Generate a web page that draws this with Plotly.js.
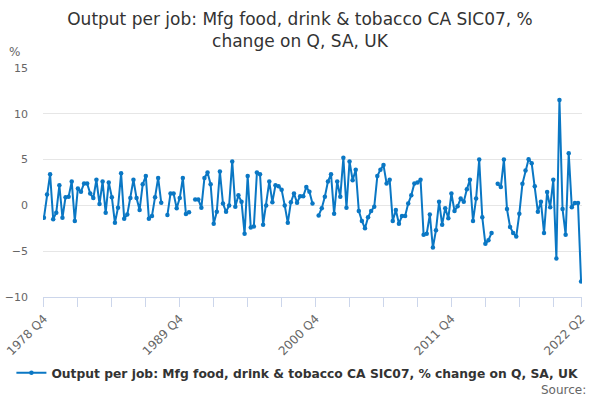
<!DOCTYPE html>
<html>
<head>
<meta charset="utf-8">
<script src="https://cdn.plot.ly/plotly-3.0.1.min.js"></script>
<style>
  html, body { margin: 0; padding: 0; background: #fff; }
  #chart { width: 600px; height: 400px; }
</style>
</head>
<body>
<div id="chart"></div>
<script>
// Output per job, food/drink/tobacco, quarterly % change (1978 Q4 - 2022 Q2)
const START_YEAR = 1978, START_Q = 4;
const N_QUARTERS = 175;

// values; null = missing quarter (gap in line)
const pctChange = [
  -1.35, 1.2, 3.4, -1.5, -0.8, 2.2, -1.35, 0.9, 0.95, 2.6,
  -1.7, 1.85, 1.5, 2.4, 2.4, 1.3, 0.8, 2.8, 0.15, 2.6,
  -0.8, 2.5, 0.9, -1.9, -0.25, 3.5, -1.45, -1.0, 0.8, 2.8,
  0.8, -0.5, 2.3, 3.2, -1.45, -1.15, 0.9, 3.0, 0.3, null,
  -1.05, 1.3, 1.3, -0.3, 0.8, 3.0, -0.95, -0.75, null, 0.65,
  0.65, -0.25, 3.0, 3.6, 2.3, -2.0, -0.7, 3.7, 0.2, -0.7,
  0.0, 4.8, -0.15, 1.1, 0.4, -3.1, 3.2, -2.4, -2.3, 3.6,
  3.4, -2.1, 0.0, 2.6, 0.35, 2.2, 2.1, 1.7, 0.0, -1.9,
  0.35, 1.3, 0.3, 1.0, 1.0, 2.0, 1.5, 0.2, null, -1.1,
  -0.3, 0.95, 2.6, 3.4, -0.9, 2.6, 0.95, 5.2, -0.25, 4.8,
  2.75, 3.9, -0.6, -1.7, -2.5, -1.3, -0.6, -0.15, 3.2, 3.9,
  4.4, 2.4, 2.8, -1.7, -0.5, -2.0, -1.15, -1.15, 0.2, 1.1,
  2.4, 2.5, 2.8, -3.2, -3.1, -1.0, -4.6, -2.7, 0.4, -2.1,
  -0.3, -1.4, 1.3, -0.6, -0.1, 0.75, 0.4, 1.75, 2.8, -1.7,
  0.75, 5.0, -1.3, -4.2, -3.8, -3.0, null, 2.35, 2.0, 5.0,
  -0.4, -2.35, -3.0, -3.4, -0.9, 2.35, 3.8, 5.05, 4.6, 2.1,
  -0.7, 0.4, -3.0, 1.45, -0.2, 2.8, -5.8, 11.5, -0.4, -3.2,
  5.7, -0.2, 0.25, 0.25, -8.3
];

// tick marks every 11 quarters, labels only on some of them
const tickQuarters = ['1978 Q4', '1981 Q3', '1984 Q2', '1987 Q1', '1989 Q4', '1992 Q3',
  '1995 Q2', '1998 Q1', '2000 Q4', '2003 Q3', '2006 Q2', '2009 Q1', '2011 Q4',
  '2014 Q3', '2017 Q2', '2020 Q1', '2022 Q2'];
const tickLabels = ['1978 Q4', '', '', '', '1989 Q4', '', '', '', '2000 Q4', '', '', '',
  '2011 Q4', '', '', '', '2022 Q2'];
const yTicks = [-10, -5, 0, 5, 10, 15];

const SERIES_NAME = 'Output per job: Mfg food, drink & tobacco CA SIC07, % change on Q, SA, UK';

const quarters = [];
for (let i = 0, y = START_YEAR, q = START_Q; i < N_QUARTERS; i++) {
  quarters.push(y + ' Q' + q);
  q++; if (q > 4) { q = 1; y++; }
}

const FONT = 'DejaVu Sans, Verdana, sans-serif';
const BLUE = '#0a77c4';

const trace = {
  type: 'scatter', mode: 'lines+markers',
  x: quarters, y: pctChange,
  name: '<b>' + SERIES_NAME + '</b>',
  line: { color: BLUE, width: 2 },
  marker: { color: BLUE, size: 4.5 },
  connectgaps: false,
  hoverinfo: 'x+y'
};

const layout = {
  width: 600, height: 400,
  margin: { l: 43, r: 18, t: 68, b: 103 },
  paper_bgcolor: '#fff', plot_bgcolor: '#fff',
  font: { family: FONT, color: '#333' },
  title: {
    text: 'Output per job: Mfg food, drink & tobacco CA SIC07, %<br>change on Q, SA, UK',
    font: { family: FONT, size: 17, color: '#333' },
    x: 0.5, xanchor: 'center', y: 0.938, yanchor: 'top', yref: 'container'
  },
  xaxis: {
    type: 'category',
    range: [-0.3, N_QUARTERS - 0.7],
    tickmode: 'array', tickvals: tickQuarters, ticktext: tickLabels,
    tickangle: -45,
    ticks: 'outside', ticklen: 9, tickcolor: '#ccd6eb', tickwidth: 1,
    showline: true, linecolor: '#ccd6eb', linewidth: 1,
    showgrid: false, zeroline: false,
    tickfont: { family: FONT, size: 12, color: '#666' }
  },
  yaxis: {
    range: [-10, 15], tickmode: 'array', tickvals: yTicks,
    showgrid: true, gridcolor: '#e6e6e6', gridwidth: 1,
    zeroline: false, showline: false, ticks: '',
    ticklabelstandoff: 14,
    tickfont: { family: FONT, size: 11, color: '#666' }
  },
  showlegend: true,
  legend: {
    orientation: 'h', x: 0.472, xanchor: 'center',
    yref: 'container', y: 0.068, yanchor: 'middle',
    font: { family: FONT, size: 12.3, color: '#333' }
  },
  annotations: [
    { text: '%', xref: 'paper', yref: 'paper', x: -0.052, y: (297 - 52) / 229,
      xanchor: 'center', yanchor: 'middle', showarrow: false,
      font: { family: FONT, size: 12, color: '#666' } },
    { text: 'Source:', xref: 'paper', yref: 'paper', x: (588 - 43) / 539, y: (297 - 390) / 229,
      xanchor: 'right', yanchor: 'middle', showarrow: false,
      font: { family: FONT, size: 12, color: '#666' } }
  ]
};

Plotly.newPlot('chart', [trace], layout, { displayModeBar: false, responsive: false });
</script>
</body>
</html>
